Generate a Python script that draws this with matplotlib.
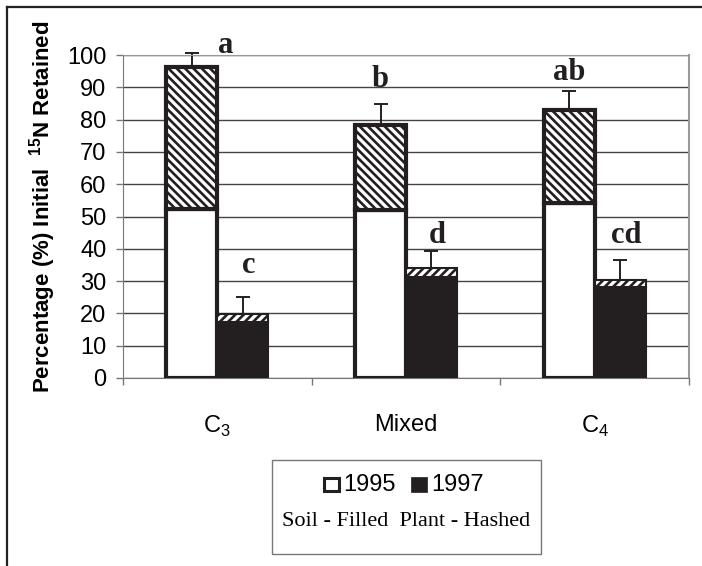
import numpy as np
import matplotlib
matplotlib.use("Agg")
import matplotlib.pyplot as plt
from matplotlib.patches import Rectangle
from matplotlib.lines import Line2D

plt.rcParams['font.family'] = ['Liberation Sans', 'DejaVu Sans']
plt.rcParams['mathtext.fontset'] = 'custom'
plt.rcParams['mathtext.rm'] = 'Liberation Sans'
plt.rcParams['mathtext.bf'] = 'Liberation Sans:bold'
plt.rcParams['hatch.linewidth'] = 1.9

# data
categories = [r"C$_3$", "Mixed", r"C$_4$"]
soil_1995 = [52.3, 52.0, 54.2]
plant_1995 = [44.0, 26.3, 28.8]
err_1995 = [4.3, 6.5, 5.9]
soil_1997 = [17.3, 31.3, 28.2]
plant_1997 = [2.5, 2.7, 2.1]
err_1997 = [5.2, 5.3, 6.2]
letters_1995 = ["a", "b", "ab"]
letters_1997 = ["c", "d", "cd"]
letter_y_1995 = [100.6, 90.0, 92.3]
letter_y_1997 = [32.5, 41.8, 41.8]

W, H = 702, 566
BLACK = '#231f20'

fig = plt.figure(figsize=(W / 100, H / 100), dpi=100)
ax = fig.add_axes([123 / W, 1 - 378 / H, (689 - 123) / W, (378 - 55) / H])

x = np.arange(len(categories))
bw = 0.27
x95 = x - bw / 2
x97 = x + bw / 2

# 1995 bars: white soil, hatched plant, heavy outline
ax.bar(x95, soil_1995, bw, color='white', edgecolor=BLACK, linewidth=3.0, zorder=3)
ax.bar(x95, plant_1995, bw, bottom=soil_1995, color='white', edgecolor=BLACK,
       hatch='\\\\\\\\', linewidth=3.0, zorder=3)

# 1997 bars: black soil, thin hatched plant strip
ax.bar(x97, soil_1997, bw, color=BLACK, edgecolor=BLACK, linewidth=1.5, zorder=3)
ax.bar(x97, plant_1997, bw, bottom=soil_1997, color='white', edgecolor=BLACK,
       hatch='////', linewidth=1.5, zorder=3)

tot95 = np.array(soil_1995) + np.array(plant_1995)
tot97 = np.array(soil_1997) + np.array(plant_1997)
for xs, tops, errs in [(x95, tot95, err_1995), (x97, tot97, err_1997)]:
    eb = ax.errorbar(xs, tops, yerr=[np.zeros(3), errs], fmt='none', ecolor=BLACK,
                     elinewidth=1.4, capsize=5, capthick=1.4, zorder=2)
    for art in eb.lines[1] + eb.lines[2]:
        art.set_clip_on(False)

for i in range(3):
    nudge = 0.18 if i == 0 else 0.0
    ax.text(x95[i] + nudge, letter_y_1995[i], letters_1995[i], ha='center', va='baseline',
            fontsize=22, fontweight='bold', family='Liberation Serif', color=BLACK)
    ax.text(x97[i] + 0.03, letter_y_1997[i], letters_1997[i], ha='center', va='baseline',
            fontsize=22, fontweight='bold', family='Liberation Serif', color=BLACK)

ax.set_xlim(-0.5, 2.5)
ax.set_ylim(0, 100)
ax.set_yticks(np.arange(0, 101, 10))
ax.yaxis.grid(True, color='#444444', linewidth=1.0, zorder=0)
ax.set_axisbelow(True)

ax.set_xticks([-0.5, 0.5, 1.5, 2.5])
ax.set_xticklabels([])
ax.set_xticks(x, minor=True)
ax.set_xticklabels(categories, minor=True)
ax.tick_params(axis='x', which='major', direction='out', length=5, color='#777777', width=1)
ax.tick_params(axis='x', which='minor', length=0, pad=26, labelsize=17)
ax.tick_params(axis='y', direction='out', length=5, color='#777777', width=1,
               pad=7, labelsize=17)

for side in ['left', 'bottom']:
    ax.spines[side].set_color('#777777')
ax.spines['right'].set_color('#999999')
ax.spines['top'].set_color('#999999')
ax.spines['right'].set_linewidth(1.5)

fig.text(43 / W, 1 - 207 / H, r"Percentage (%) Initial  $^{\mathbf{15}}$N Retained",
         rotation=90, ha='center', va='center', fontsize=16, fontweight='bold')


def fx(px):
    return px / W


def fy(py):
    return 1 - py / H


# legend box drawn by hand
fig.patches.append(Rectangle((fx(272), fy(554)), fx(541) - fx(272), fy(460) - fy(554),
                             transform=fig.transFigure, facecolor='white',
                             edgecolor='#777777', linewidth=1))
fig.patches.append(Rectangle((fx(324), fy(491)), fx(339) - fx(324), fy(478) - fy(491),
                             transform=fig.transFigure, facecolor='white',
                             edgecolor=BLACK, linewidth=2.2))
fig.patches.append(Rectangle((fx(411), fy(492)), fx(427) - fx(411), fy(477) - fy(492),
                             transform=fig.transFigure, facecolor=BLACK,
                             edgecolor=BLACK, linewidth=0.5))
fig.text(fx(343), fy(491), "1995", ha='left', va='baseline', fontsize=17)
fig.text(fx(431), fy(491), "1997", ha='left', va='baseline', fontsize=17)
fig.text(fx(406.5), fy(522), "Soil - Filled  Plant - Hashed", ha='center', va='center',
         fontsize=16, family='Liberation Serif')

# outer border (left and top)
fig.lines.append(Line2D([fx(7), fx(7)], [0, fy(7)], transform=fig.transFigure,
                        color='#222222', linewidth=1.6))
fig.lines.append(Line2D([fx(7), 1], [fy(7), fy(7)], transform=fig.transFigure,
                        color='#222222', linewidth=1.6))

fig.savefig('out.png', dpi=100)
